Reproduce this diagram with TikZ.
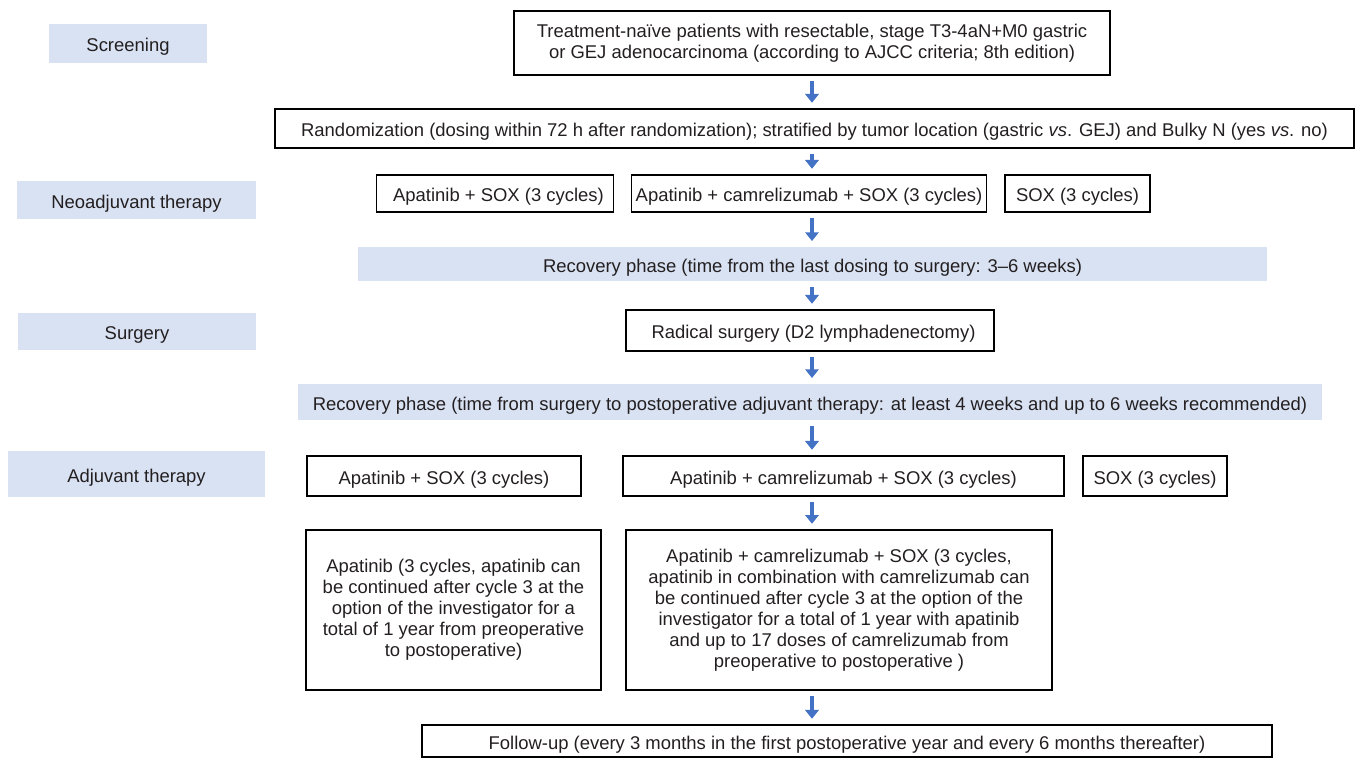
\documentclass[tikz,border=0pt]{standalone}
\usepackage{fontspec}
\setmainfont{Liberation Sans}
\usetikzlibrary{arrows.meta}
\definecolor{phaseblue}{RGB}{217,226,243}
\definecolor{flowblue}{RGB}{68,114,196}
\definecolor{textgray}{RGB}{35,31,32}
\tikzset{
  phase/.style    = {rectangle,fill=phaseblue,align=center,text=textgray,inner sep=0pt,font=\fontsize{10.5}{11.9}\selectfont},
  armbox/.style   = {rectangle,draw,line width=0.7pt,align=center,text=textgray,inner sep=0pt,font=\fontsize{10.5}{11.9}\selectfont},
  oneline/.style  = {text height=9.5pt,text depth=0pt},
  padleft/.style  = {execute at begin node=\hspace*{4pt}},
  flow/.style     = {-{Triangle[length=5pt,width=7.6pt]},line width=2.6pt,flowblue,shorten <=3.2pt,shorten >=3.2pt},
}

\begin{document}
\begin{tikzpicture}[x=0.02cm,y=-0.02cm]
\useasboundingbox (0,0) rectangle (1358,758);
\coordinate (spine) at (812,0);
% phase labels
\node[phase,oneline,minimum width=3.16cm,minimum height=0.78cm] (screen) at (128,43.5) {Screening};
\node[phase,oneline,minimum width=4.78cm,minimum height=0.76cm] (neo)    at (136.5,200) {Neoadjuvant therapy};
\node[phase,oneline,minimum width=4.76cm,minimum height=0.74cm] (surg)   at (137,331.5) {Surgery};
\node[phase,oneline,minimum width=5.14cm,minimum height=0.92cm] (adj)    at (136.5,474) {Adjuvant therapy};
% main flow
\node[armbox,minimum width=11.92cm,minimum height=1.28cm] (elig) at (812,43)
  {Treatment-na\"ive patients with resectable, stage T3-4aN+M0 gastric\\or GEJ adenocarcinoma (according to AJCC criteria; 8th edition)};
\node[armbox,oneline,minimum width=21.58cm,minimum height=0.78cm] (rand) at (814.5,128.5)
  {Randomization (dosing within 72 h after randomization); stratified by tumor location (gastric \textit{vs}. GEJ) and Bulky N (yes \textit{vs}. no)};
\node[armbox,oneline,padleft,minimum width=4.74cm,minimum height=0.74cm] (neoA) at (495,193.5) {Apatinib + SOX (3 cycles)};
\node[armbox,oneline,minimum width=7.10cm,minimum height=0.74cm] (neoB) at (809,193.5) {Apatinib + camrelizumab + SOX (3 cycles)};
\node[armbox,oneline,minimum width=2.90cm,minimum height=0.74cm] (neoC) at (1077.5,193.5) {SOX (3 cycles)};
\node[phase,oneline,minimum width=18.18cm,minimum height=0.68cm] (recA) at (812.5,264)
  {Recovery phase (time from the last dosing to surgery: 3--6 weeks)};
\node[armbox,oneline,padleft,minimum width=7.36cm,minimum height=0.82cm] (radical) at (810,330.5) {Radical surgery (D2 lymphadenectomy)};
\node[phase,oneline,minimum width=20.48cm,minimum height=0.72cm] (recB) at (810,402)
  {Recovery phase (time from surgery to postoperative adjuvant therapy: at least 4 weeks and up to 6 weeks recommended)};
\node[armbox,oneline,minimum width=5.48cm,minimum height=0.80cm] (adjA) at (444,476) {Apatinib + SOX (3 cycles)};
\node[armbox,oneline,minimum width=8.82cm,minimum height=0.80cm] (adjB) at (843.5,476) {Apatinib + camrelizumab + SOX (3 cycles)};
\node[armbox,oneline,minimum width=2.88cm,minimum height=0.80cm] (adjC) at (1155,476) {SOX (3 cycles)};
\node[armbox,minimum width=5.90cm,minimum height=3.20cm] (contA) at (453.5,610)
  {Apatinib (3 cycles, apatinib can\\be continued after cycle 3 at the\\option of the investigator for a\\total of 1 year from preoperative\\to postoperative)};
\node[armbox,minimum width=8.52cm,minimum height=3.20cm] (contB) at (839,610)
  {Apatinib + camrelizumab + SOX (3 cycles,\\apatinib in combination with camrelizumab can\\be continued after cycle 3 at the option of the\\investigator for a total of 1 year with apatinib\\and up to 17 doses of camrelizumab from\\preoperative to postoperative )};
\node[armbox,oneline,minimum width=17.00cm,minimum height=0.64cm] (follow) at (847,741)
  {Follow-up (every 3 months in the first postoperative year and every 6 months thereafter)};
% arrows
\draw[flow] (spine |- elig.south) -- (spine |- rand.north);
\draw[flow] (spine |- rand.south) -- (spine |- neoB.north);
\draw[flow] (spine |- neoB.south) -- (spine |- recA.north);
\draw[flow] (spine |- recA.south) -- (spine |- radical.north);
\draw[flow] (spine |- radical.south) -- (spine |- recB.north);
\draw[flow] (spine |- recB.south) -- (spine |- adjB.north);
\draw[flow] (spine |- adjB.south) -- (spine |- contB.north);
\draw[flow] (spine |- contB.south) -- (spine |- follow.north);
\end{tikzpicture}
\end{document}
